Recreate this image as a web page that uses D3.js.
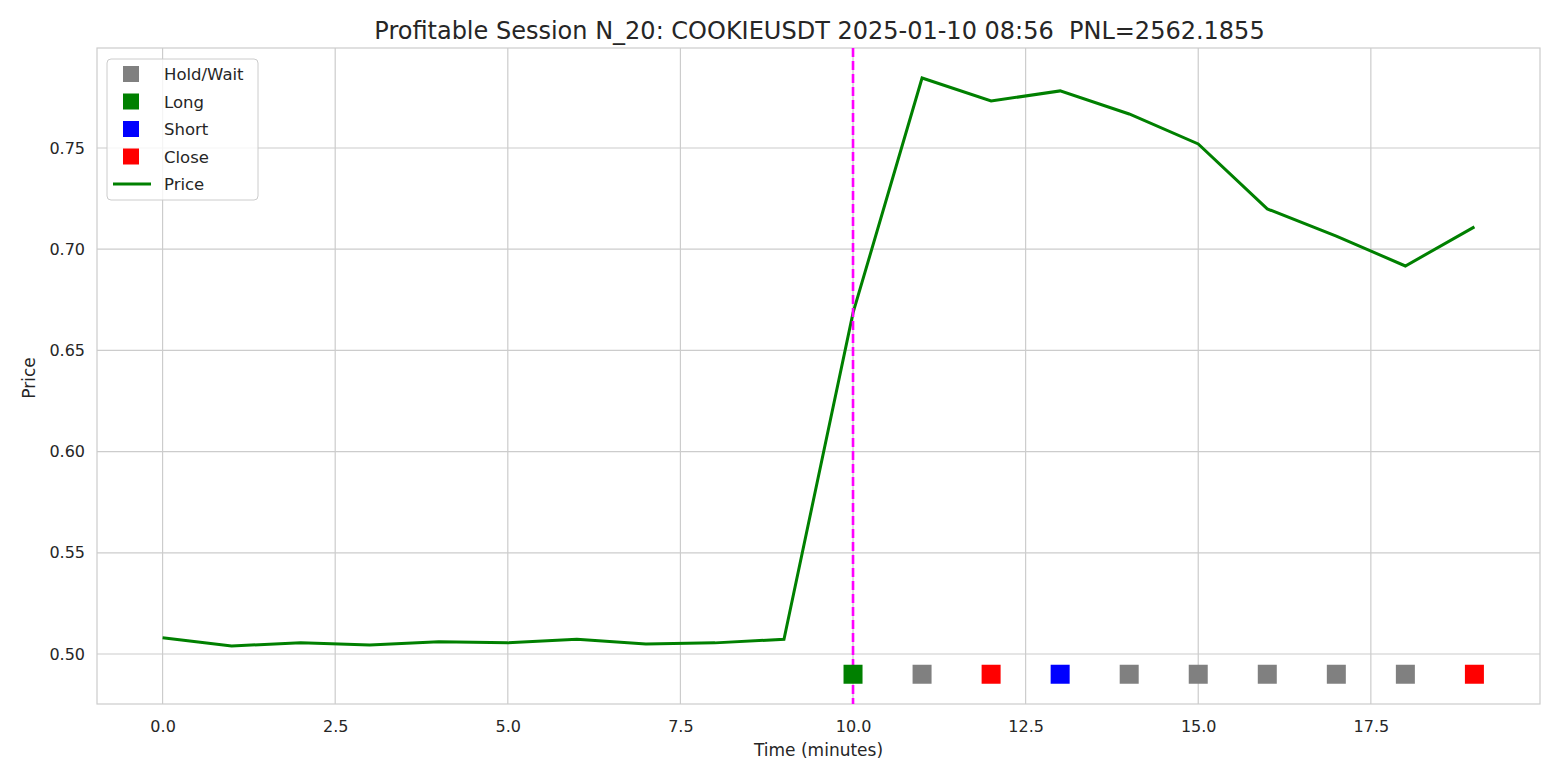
<!DOCTYPE html>
<html><head><meta charset="utf-8">
<script src="https://cdn.jsdelivr.net/npm/d3@7"></script>
<style>body{margin:0;background:#fff}text{font-family:"DejaVu Sans",sans-serif;fill:#262626;white-space:pre}</style>
</head><body><svg id="c" width="1560" height="780"></svg>
<script>
const minutes=[0,1,2,3,4,5,6,7,8,9,10,11,12,13,14,15,16,17,18,19];
const prices=[0.508,0.504,0.5055,0.5045,0.506,0.5055,0.5073,0.505,0.5055,0.5073,0.6685,0.7846,0.7732,0.7782,0.7668,0.752,0.7199,0.7065,0.6917,0.711];
const actionMinutes=[10,11,12,13,14,15,16,17,18,19];
const actions=["Long","Hold/Wait","Close","Short","Hold/Wait","Hold/Wait","Hold/Wait","Hold/Wait","Hold/Wait","Close"];
const markerLevel=0.49;
const xTicks=[0,2.5,5,7.5,10,12.5,15,17.5];
const yTicks=[0.5,0.55,0.6,0.65,0.7,0.75];
const legendItems=["Hold/Wait","Long","Short","Close"];
const colors={"Hold/Wait":"#808080","Long":"#008000","Short":"#0000ff","Close":"#ff0000"};
const svg=d3.select("#c");
const L=97,R=1540,T=48,B=704;
const x=d3.scaleLinear().domain([-0.95,19.95]).range([L,R]);
const y=d3.scaleLinear().domain([0.4753,0.7994]).range([B,T]);
const g=svg.append("g");
g.selectAll(".vx").data(xTicks).join("line").attr("x1",d=>x(d)).attr("x2",d=>x(d)).attr("y1",T).attr("y2",B).attr("stroke","#cccccc").attr("stroke-width",1.2);
g.selectAll(".hy").data(yTicks).join("line").attr("y1",d=>y(d)).attr("y2",d=>y(d)).attr("x1",L).attr("x2",R).attr("stroke","#cccccc").attr("stroke-width",1.2);
svg.append("rect").attr("x",L).attr("y",T).attr("width",R-L).attr("height",B-T).attr("fill","none").attr("stroke","#cccccc").attr("stroke-width",1.2);
svg.append("g").attr("transform",`translate(0,${B})`).call(d3.axisBottom(x).tickValues(xTicks).tickSize(0).tickPadding(17).tickFormat(d3.format(".1f"))).call(a=>a.select(".domain").remove()).selectAll("text").attr("font-size",16).style("fill","#262626");
svg.append("g").attr("transform",`translate(${L},0)`).call(d3.axisLeft(y).tickValues(yTicks).tickSize(0).tickPadding(12).tickFormat(d3.format(".2f"))).call(a=>a.select(".domain").remove()).selectAll("text").attr("font-size",16).style("fill","#262626");
svg.append("path").datum(minutes).attr("d",d3.line().x(d=>x(d)).y((d,i)=>y(prices[i]))).attr("fill","none").attr("stroke","#008000").attr("stroke-width",3);
svg.append("line").attr("x1",x(10)).attr("x2",x(10)).attr("y1",T).attr("y2",B).attr("stroke","#ff00ff").attr("stroke-width",2.6).attr("stroke-dasharray","9,4");
svg.selectAll(".m").data(actionMinutes).join("rect").attr("x",d=>x(d)-9.5).attr("y",y(markerLevel)-9.5).attr("width",19).attr("height",19).attr("fill",(d,i)=>colors[actions[i]]);
svg.append("text").attr("x",(L+R)/2+1).attr("y",39).attr("text-anchor","middle").attr("font-size",24).attr("xml:space","preserve").text("Profitable Session N_20: COOKIEUSDT 2025-01-10 08:56  PNL=2562.1855");
svg.append("text").attr("x",(L+R)/2).attr("y",756).attr("text-anchor","middle").attr("font-size",17).text("Time (minutes)");
svg.append("text").attr("transform","translate(35,378) rotate(-90)").attr("text-anchor","middle").attr("font-size",17).text("Price");
const lg=svg.append("g");
lg.append("rect").attr("x",107).attr("y",59).attr("width",151).attr("height",141).attr("rx",4).attr("fill","#fff").attr("fill-opacity",0.8).attr("stroke","#cccccc");
legendItems.forEach((k,i)=>{const cy=74+i*27.5;
 lg.append("rect").attr("x",123).attr("y",cy-8).attr("width",16).attr("height",16).attr("fill",colors[k]);
 lg.append("text").attr("x",164).attr("y",cy+6).attr("font-size",16.5).text(k);});
lg.append("line").attr("x1",113).attr("x2",151).attr("y1",184).attr("y2",184).attr("stroke","#008000").attr("stroke-width",3);
lg.append("text").attr("x",164).attr("y",190).attr("font-size",16.5).text("Price");
</script></body></html>
